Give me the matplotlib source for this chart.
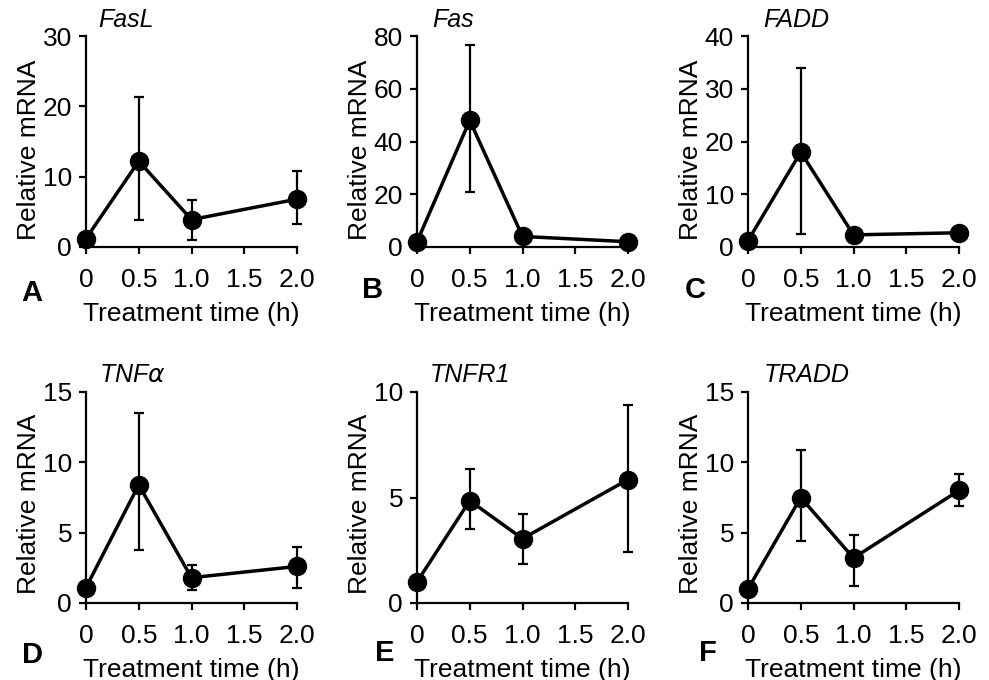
import numpy as np
import matplotlib.pyplot as plt

plt.rcParams['font.family'] = ['Liberation Sans', 'DejaVu Sans']

times = [0, 0.5, 1.0, 2.0]
genes = ['FasL', 'Fas', 'FADD', r'TNF$\alpha$', 'TNFR1', 'TRADD']
letters = ['A', 'B', 'C', 'D', 'E', 'F']

fasl_mean = [1.2, 12.2, 3.9, 6.8]
fasl_lo = [1.2, 3.8, 1.0, 3.2]
fasl_hi = [1.2, 21.3, 6.7, 10.8]

fas_mean = [2.0, 48.0, 4.0, 2.0]
fas_lo = [2.0, 21.0, 4.0, 2.0]
fas_hi = [2.0, 76.5, 4.0, 2.0]

fadd_mean = [1.2, 18.0, 2.3, 2.7]
fadd_lo = [1.2, 2.5, 2.3, 2.2]
fadd_hi = [1.2, 34.0, 2.3, 3.2]

tnfa_mean = [1.1, 8.4, 1.8, 2.6]
tnfa_lo = [1.1, 3.8, 0.9, 1.1]
tnfa_hi = [1.1, 13.5, 2.7, 4.0]

tnfr1_mean = [1.0, 4.85, 3.05, 5.85]
tnfr1_lo = [1.0, 3.5, 1.85, 2.4]
tnfr1_hi = [1.0, 6.35, 4.2, 9.4]

tradd_mean = [1.0, 7.5, 3.2, 8.0]
tradd_lo = [1.0, 4.4, 1.2, 6.9]
tradd_hi = [1.0, 10.9, 4.85, 9.2]

means = [fasl_mean, fas_mean, fadd_mean, tnfa_mean, tnfr1_mean, tradd_mean]
lows = [fasl_lo, fas_lo, fadd_lo, tnfa_lo, tnfr1_lo, tradd_lo]
highs = [fasl_hi, fas_hi, fadd_hi, tnfa_hi, tnfr1_hi, tradd_hi]
yticks = [[0, 10, 20, 30], [0, 20, 40, 60, 80], [0, 10, 20, 30, 40],
          [0, 5, 10, 15], [0, 5, 10], [0, 5, 10, 15]]
xticks = [0, 0.5, 1.0, 1.5, 2.0]
xticklabels = ['0', '0.5', '1.0', '1.5', '2.0']

# layout in pixels (figure 989 x 680)
W, H = 989, 680
col_x = [86, 417, 748]
row_top = [36, 392]
ax_w, ax_h = 211, 211
title_x = [0.19, 0.17, 0.23, 0.22, 0.25, 0.28]
title_y = [1.076, 1.076, 1.076, 1.08, 1.08, 1.08]
ylabel_y = [0.46, 0.47]
letter_pos = [(32, 293), (373, 290), (695, 290), (32, 655), (385, 653), (708, 653)]

fig = plt.figure(figsize=(W / 100, H / 100), dpi=100)

for i in range(6):
    r, c = divmod(i, 3)
    left = col_x[c] / W
    bottom = 1 - (row_top[r] + ax_h) / H
    ax = fig.add_axes([left, bottom, ax_w / W, ax_h / H])

    m = np.array(means[i])
    lo = m - np.array(lows[i])
    hi = np.array(highs[i]) - m
    ax.errorbar(times, m, yerr=[lo, hi], fmt='none', ecolor='black',
                elinewidth=1.6, capsize=3.5, capthick=1.6, clip_on=False, zorder=2)
    ax.plot(times, m, '-o', color='black', lw=2.5, markersize=13,
            clip_on=False, zorder=3)

    ax.set_xlim(0, 2.0)
    ax.set_ylim(0, yticks[i][-1])
    ax.set_xticks(xticks)
    ax.set_xticklabels(xticklabels)
    ax.set_yticks(yticks[i])
    for s in ['top', 'right']:
        ax.spines[s].set_visible(False)
    for s in ['left', 'bottom']:
        ax.spines[s].set_linewidth(1.6)
    ax.tick_params(width=1.6, length=5, labelsize=19, colors='black', pad=5)
    ax.tick_params(axis='x', pad=10)
    ax.set_xlabel('Treatment time (h)', fontsize=19, labelpad=7)
    ax.set_ylabel('Relative mRNA', fontsize=19, labelpad=2)
    ax.yaxis.set_label_coords(-0.215, ylabel_y[r])
    ax.text(title_x[i], title_y[i], genes[i], transform=ax.transAxes,
            ha='center', va='center', fontsize=18, style='italic')

    lx, ly = letter_pos[i]
    fig.text(lx / W, 1 - ly / H, letters[i], ha='center', va='center',
             fontsize=21, fontweight='bold')

fig.savefig('out.png', dpi=100)
